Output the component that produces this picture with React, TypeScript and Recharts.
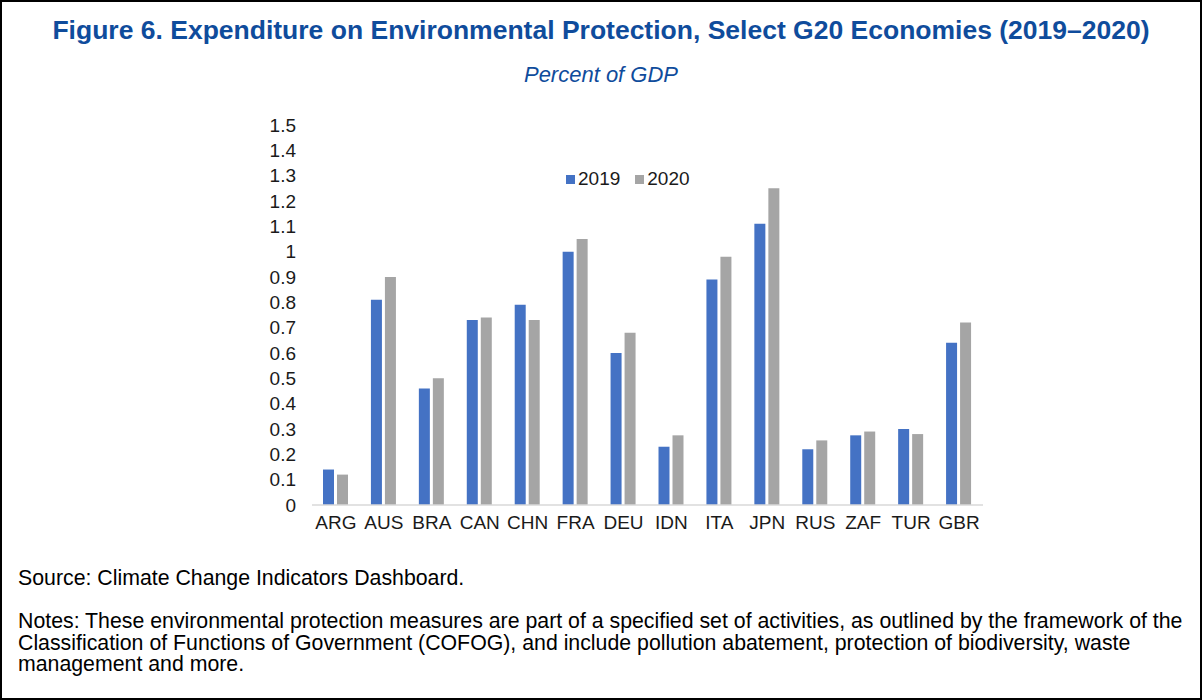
import React from 'react';
import { BarChart, Bar, XAxis, YAxis, Legend } from 'recharts';

const categories = ['ARG', 'AUS', 'BRA', 'CAN', 'CHN', 'FRA', 'DEU', 'IDN', 'ITA', 'JPN', 'RUS', 'ZAF', 'TUR', 'GBR'];
const values2019 = [0.14, 0.81, 0.46, 0.73, 0.79, 1.0, 0.6, 0.23, 0.89, 1.11, 0.22, 0.275, 0.3, 0.64];
const values2020 = [0.12, 0.9, 0.5, 0.74, 0.73, 1.05, 0.68, 0.275, 0.98, 1.25, 0.255, 0.29, 0.28, 0.72];
const yTicks = [0, 0.1, 0.2, 0.3, 0.4, 0.5, 0.6, 0.7, 0.8, 0.9, 1, 1.1, 1.2, 1.3, 1.4, 1.5];
const seriesNames = ['2019', '2020'];
const seriesColors = ['#4472C4', '#A5A5A5'];
const noteLines = [
  'Notes: These environmental protection measures are part of a specified set of activities, as outlined by the framework of the',
  'Classification of Functions of Government (COFOG), and include pollution abatement, protection of biodiversity, waste',
  'management and more.',
];

const data = categories.map((c, i) => ({ name: c, y2019: values2019[i], y2020: values2020[i] }));

const FONT = '"Liberation Sans", Arial, sans-serif';
const BLUE = '#0F4C9C';
const TEXT = '#1a1a1a';

const renderLegend = (props: any) => {
  const items = props.payload || [];
  return (
    <div style={{ display: 'flex', alignItems: 'center', fontFamily: FONT, fontSize: 19, color: TEXT }}>
      {items.map((it: any, i: number) => (
        <div key={i} style={{ display: 'flex', alignItems: 'center', marginRight: i === 0 ? 15 : 0 }}>
          <span style={{ display: 'inline-block', width: 9, height: 9, background: it.color, marginRight: 3 }} />
          <span>{it.value}</span>
        </div>
      ))}
    </div>
  );
};

export default function App() {
  return (
    <div style={{ position: 'absolute', left: 0, top: 0, width: 1202, height: 700, background: '#fff', fontFamily: FONT }}>
      <div style={{ position: 'absolute', left: 0, top: 0, width: 1202, height: 700, boxSizing: 'border-box', border: '2px solid #000', pointerEvents: 'none' }} />
      <div style={{ position: 'absolute', left: 0, top: 15, width: 1202, textAlign: 'center', color: BLUE, fontWeight: 'bold', fontSize: 26.5, lineHeight: '30px', whiteSpace: 'nowrap' }}>
        Figure 6. Expenditure on Environmental Protection, Select G20 Economies (2019–2020)
      </div>
      <div style={{ position: 'absolute', left: 0, top: 61, width: 1202, textAlign: 'center', color: BLUE, fontStyle: 'italic', fontSize: 22, lineHeight: '28px' }}>
        Percent of GDP
      </div>
      <div style={{ position: 'absolute', left: 0, top: 0 }}>
        <BarChart width={1202} height={560} data={data} margin={{ top: 125, right: 219, bottom: 25, left: 252 }} barGap={3} barSize={11}>
          <XAxis dataKey="name" axisLine={{ stroke: '#d9d9d9', strokeWidth: 1.5 }} tickLine={false} tickSize={0} tickMargin={11} height={30} tick={{ fill: TEXT, fontSize: 19, fontFamily: FONT }} interval={0} />
          <YAxis domain={[0, 1.5]} ticks={yTicks} interval={0} axisLine={false} tickLine={false} tickSize={0} tickMargin={16} width={60} tick={{ fill: TEXT, fontSize: 19, fontFamily: FONT }} tickFormatter={(v: number) => String(Math.round(v * 10) / 10)} />
          <Legend layout="horizontal" verticalAlign="middle" align="center" wrapperStyle={{ top: 168, left: 566, width: 160, height: 24 }} content={renderLegend} />
          <Bar dataKey="y2019" name={seriesNames[0]} fill={seriesColors[0]} isAnimationActive={false} />
          <Bar dataKey="y2020" name={seriesNames[1]} fill={seriesColors[1]} isAnimationActive={false} />
        </BarChart>
      </div>
      <div style={{ position: 'absolute', left: 18, top: 566, fontSize: 21.3, lineHeight: '24px', color: '#000', whiteSpace: 'nowrap' }}>
        Source: Climate Change Indicators Dashboard.
      </div>
      {noteLines.map((line, i) => (
        <div key={i} style={{ position: 'absolute', left: 18, top: 611 + i * 21.7, fontSize: 21.3, lineHeight: '21.5px', color: '#000', whiteSpace: 'nowrap' }}>
          {line}
        </div>
      ))}
    </div>
  );
}
